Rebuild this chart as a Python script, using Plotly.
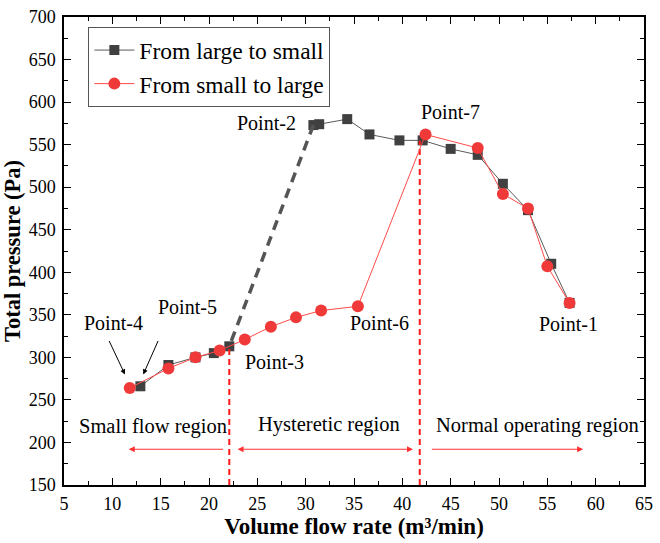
import plotly.graph_objects as go

# ---- data ----
large_to_small_x = [57.3, 55.4, 53.0, 50.4, 47.8, 45.0, 42.1, 39.7, 36.6, 34.3, 31.4, 30.8,
                    22.1, 20.5, 18.6, 15.8, 12.9]
large_to_small_y = [364, 410, 473, 504, 538, 545, 555, 555, 562, 580, 574, 573,
                    313, 305, 300, 291, 266]
surge_jump_index = 11  # P2 -> P3 drawn dashed

small_to_large_x = [11.8, 15.8, 18.6, 21.1, 23.7, 26.4, 29.0, 31.6, 35.4, 42.4,
                    47.8, 50.4, 53.0, 55.0, 57.3]
small_to_large_y = [264, 287, 300, 308, 321, 336, 347, 355, 360, 562,
                    546, 492, 475, 407, 364]

boundary_x = [22.1, 41.8]
boundary_top = [313, 555]

point_labels = ["Point-1", "Point-2", "Point-3", "Point-4", "Point-5", "Point-6", "Point-7"]
point_label_x = [57.2, 25.9, 26.8, 10.1, 17.8, 37.6, 45.0]
point_label_y = [339, 576, 295, 340, 359, 340, 588]

region_labels = ["Small flow region", "Hysteretic region", "Normal operating region"]
region_label_x = [14.2, 32.4, 54.0]
region_label_y = [219, 221, 220]

BLACK_LINE = "#5a5a5a"
BLACK_MARK = "#404040"
RED_LINE = "#ff4a4a"
RED_MARK = "#f03a3a"
FONT = "Liberation Serif, Times New Roman, serif"

fig = go.Figure()

k = surge_jump_index
fig.add_trace(go.Scatter(
    x=large_to_small_x[:k + 1], y=large_to_small_y[:k + 1], mode="lines+markers",
    name="From large to small",
    line=dict(color=BLACK_LINE, width=1),
    marker=dict(symbol="square", size=10, color=BLACK_MARK),
    legendgroup="l2s"))
fig.add_trace(go.Scatter(
    x=large_to_small_x[k:k + 2], y=large_to_small_y[k:k + 2], mode="lines",
    line=dict(color="#555555", width=3.5, dash="10px,7px"),
    showlegend=False, hoverinfo="skip"))
fig.add_trace(go.Scatter(
    x=large_to_small_x[k + 1:], y=large_to_small_y[k + 1:], mode="lines+markers",
    line=dict(color=BLACK_LINE, width=1),
    marker=dict(symbol="square", size=10, color=BLACK_MARK),
    showlegend=False, legendgroup="l2s"))

for bx, bt in zip(boundary_x, boundary_top):
    fig.add_trace(go.Scatter(x=[bx, bx], y=[150, bt], mode="lines",
                             line=dict(color="#ff1a1a", width=2, dash="6px,4px"),
                             showlegend=False, hoverinfo="skip"))

fig.add_trace(go.Scatter(
    x=small_to_large_x, y=small_to_large_y, mode="lines+markers",
    name="From small to large",
    line=dict(color=RED_LINE, width=1),
    marker=dict(symbol="circle", size=12, color=RED_MARK)))

annotations = []
for t, x, y in zip(point_labels, point_label_x, point_label_y):
    annotations.append(dict(x=x, y=y, xref="x", yref="y", text=t, showarrow=False,
                            font=dict(family=FONT, size=20, color="black")))
for t, x, y in zip(region_labels, region_label_x, region_label_y):
    annotations.append(dict(x=x, y=y, xref="x", yref="y", text=t, showarrow=False,
                            font=dict(family=FONT, size=20.5, color="black")))

annotations.append(dict(x=11.3, y=280, ax=9.6, ay=321, xref="x", yref="y", axref="x", ayref="y",
                        text="", showarrow=True, arrowhead=2, arrowsize=1, arrowwidth=1,
                        arrowcolor="black"))
annotations.append(dict(x=13.2, y=280, ax=14.8, ay=321, xref="x", yref="y", axref="x", ayref="y",
                        text="", showarrow=True, arrowhead=2, arrowsize=1, arrowwidth=1,
                        arrowcolor="black"))

arrow_y = 192
annotations.append(dict(x=11.7, y=arrow_y, ax=21.6, ay=arrow_y, xref="x", yref="y", axref="x",
                        ayref="y", text="", showarrow=True, arrowhead=2, arrowsize=1,
                        arrowwidth=1.2, arrowcolor="#ff3030"))
annotations.append(dict(x=41.1, y=arrow_y, ax=22.8, ay=arrow_y, xref="x", yref="y", axref="x",
                        ayref="y", text="", showarrow=True, arrowhead=2, arrowsize=1,
                        arrowside="end+start", arrowwidth=1.2, arrowcolor="#ff3030"))
annotations.append(dict(x=58.7, y=arrow_y, ax=42.9, ay=arrow_y, xref="x", yref="y", axref="x",
                        ayref="y", text="", showarrow=True, arrowhead=2, arrowsize=1,
                        arrowwidth=1.2, arrowcolor="#ff3030"))

axis_common = dict(showline=True, linecolor="black", linewidth=1.5, mirror="ticks",
                   ticks="inside", ticklen=7, tickwidth=1.2, tickcolor="black",
                   showgrid=False, zeroline=False, ticklabeloverflow="allow",
                   tickfont=dict(family=FONT, size=18, color="black"))

fig.update_layout(
    width=660, height=543,
    margin=dict(l=64, r=7, t=9, b=58),
    paper_bgcolor="white", plot_bgcolor="white",
    showlegend=True,
    legend=dict(x=0.042, y=0.978, xanchor="left", yanchor="top",
                bgcolor="white", bordercolor="#555555", borderwidth=1,
                font=dict(family=FONT, size=23.5, color="black"),
                tracegroupgap=0, itemwidth=40),
    annotations=annotations,
    xaxis=dict(range=[5, 65], dtick=5, tick0=5,
               minor=dict(ticks="inside", dtick=2.5, ticklen=4, tickcolor="black"),
               ticklabelstandoff=2,
               title=dict(text="<b>Volume flow rate (m³/min)</b>", standoff=3,
                          font=dict(family=FONT, size=23, color="black")),
               **axis_common),
    yaxis=dict(range=[150, 700], dtick=50,
               minor=dict(ticks="inside", dtick=25, ticklen=4, tickcolor="black"),
               ticklabelstandoff=3,
               title=dict(text="<b>Total pressure (Pa)</b>", standoff=3,
                          font=dict(family=FONT, size=22.5, color="black")),
               **axis_common),
)

fig.write_html("out.html", config={"displayModeBar": False},
               post_script="document.body.style.margin='0';document.body.style.overflow='hidden';")
